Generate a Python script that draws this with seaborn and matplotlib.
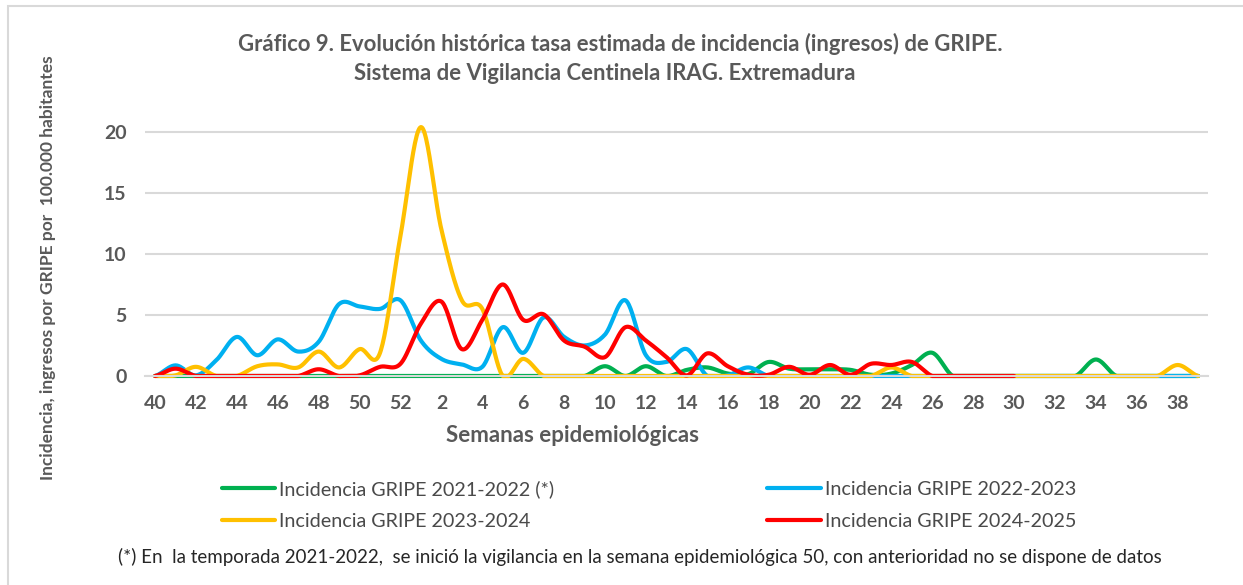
import numpy as np
import pandas as pd
import matplotlib
matplotlib.use("Agg")
import matplotlib.pyplot as plt
from matplotlib.patches import Rectangle
import seaborn as sns

# semanas epidemiologicas (temporada de la 40 a la 39)
weeks = list(range(40, 53)) + list(range(1, 40))

gripe_2122 = [0, 0, 0, 0, 0, 0, 0, 0, 0, 0, 0, 0, 0, 0, 0, 0, 0, 0, 0, 0,
              0, 0, 0.8, 0, 0.8, 0, 0.5, 0.7, 0.2, 0.15, 1.15, 0.6, 0.55, 0.55, 0.5, 0.1,
              0.2, 0.9, 1.9, 0, 0, 0, 0, 0, 0, 0, 1.35, 0, 0, 0, 0, 0]
gripe_2223 = [0, 0.87, 0.05, 1.3, 3.2, 1.7, 3.0, 2.0, 2.8, 5.9, 5.7, 5.5, 6.2, 2.9, 1.4, 0.95,
              0.75, 4.0, 1.9, 4.8, 3.2, 2.5, 3.4, 6.2, 1.7, 1.15, 2.2, 0, 0.05, 0.7, 0, 0,
              0, 0, 0, 0, 0, 0, 0, 0, 0, 0, 0, 0, 0, 0, 0, 0, 0, 0, 0, 0]
gripe_2324 = [0, 0.05, 0.75, 0, 0, 0.8, 0.95, 0.7, 2.0, 0.7, 2.2, 1.9, 11.5, 20.4, 12.0, 6.2,
              5.5, 0, 1.4, 0, 0, 0, 0, 0, 0, 0, 0, 0, 0, 0, 0, 0,
              0, 0, 0, 0, 0.7, 0, 0, 0, 0, 0, 0, 0, 0, 0, 0, 0, 0, 0, 0.9, 0]
gripe_2425 = [0, 0.6, 0, 0, 0, 0, 0, 0, 0.55, 0, 0.05, 0.75, 1.0, 4.3, 6.1, 2.2,
              4.6, 7.5, 4.6, 5.05, 2.9, 2.4, 1.55, 4.0, 2.9, 1.55, 0.05, 1.85, 0.8, 0.1, 0.1, 0.75,
              0.1, 0.9, 0.1, 1.0, 0.9, 1.15, 0, 0, 0, 0, 0]

series = {
    "Incidencia GRIPE 2021-2022 (*)": gripe_2122,
    "Incidencia GRIPE 2022-2023": gripe_2223,
    "Incidencia GRIPE 2023-2024": gripe_2324,
    "Incidencia GRIPE 2024-2025": gripe_2425,
}
colors = ["#00b050", "#00b0f0", "#ffc000", "#ff0000"]


def smooth(vals, n=24):
    # linea suavizada tipo Excel (Catmull-Rom) solo para dibujar
    y = np.asarray(vals, float)
    p = np.concatenate([[y[0]], y, [y[-1]]])
    xs, ys = [], []
    t = np.linspace(0, 1, n, endpoint=False)
    for k in range(len(y) - 1):
        p0, p1, p2, p3 = p[k], p[k + 1], p[k + 2], p[k + 3]
        c1 = p1 + (p2 - p0) / 6
        c2 = p2 - (p3 - p1) / 6
        b = (1 - t) ** 3 * p1 + 3 * (1 - t) ** 2 * t * c1 + 3 * (1 - t) * t ** 2 * c2 + t ** 3 * p2
        xs.extend(k + t)
        ys.extend(b)
    xs.append(len(y) - 1)
    ys.append(y[-1])
    return np.array(xs), np.maximum(np.array(ys), 0)


rows = []
for name, vals in series.items():
    xs, ys = smooth(vals)
    rows.append(pd.DataFrame({"pos": xs, "val": ys, "serie": name}))
df = pd.concat(rows, ignore_index=True)

sns.set_theme(style="white")
plt.rcParams["font.family"] = ["Lato", "DejaVu Sans"]
grey = "#595959"

fig = plt.figure(figsize=(12.43, 5.85), dpi=100)
ax = fig.add_axes([0.1165, 0.3573, 0.8557, 0.4588])

sns.lineplot(data=df, x="pos", y="val", hue="serie", palette=colors,
             sort=False, estimator=None, linewidth=3.0, ax=ax, legend=True)
for ln in ax.lines:
    ln.set_clip_on(False)
    ln.set_solid_capstyle("round")

ax.set_xlim(-0.5, len(weeks) - 0.5)
ax.set_ylim(0, 22)
ax.set_yticks([0, 5, 10, 15, 20])
ax.set_xticks(range(0, len(weeks), 2))
ax.set_xticklabels([str(w) for w in weeks[0::2]])
ax.tick_params(axis="both", length=0, labelsize=14, labelcolor=grey)
ax.tick_params(axis="y", pad=13)
ax.tick_params(axis="x", pad=14)
for lab in ax.get_xticklabels() + ax.get_yticklabels():
    lab.set_fontweight("bold")
ax.yaxis.grid(True, color="#d9d9d9", linewidth=1.5)
ax.set_axisbelow(True)
for s in ["top", "right", "left"]:
    ax.spines[s].set_visible(False)
ax.spines["bottom"].set_color("#d9d9d9")
ax.spines["bottom"].set_linewidth(1.5)
ax.set_xlabel("")
ax.set_ylabel("")

# leyenda en dos columnas
handles, labels = ax.get_legend_handles_labels()
ax.get_legend().remove()
order = [0, 2, 1, 3]
fig.legend([handles[i] for i in order], [labels[i] for i in order],
           loc="upper left", bbox_to_anchor=(222 / 1243, 1 - 480 / 585), ncol=2,
           frameon=False, fontsize=14.2, labelcolor="#4a4a4a", handlelength=2.7,
           handletextpad=0.2, columnspacing=10.8, labelspacing=0.78,
           borderaxespad=0, borderpad=0)

fig.text(620 / 1243, 1 - 44 / 585,
         "Gráfico 9. Evolución histórica tasa estimada de incidencia (ingresos) de GRIPE.",
         ha="center", va="center", fontsize=15.9, fontweight="bold", color=grey)
fig.text(605 / 1243, 1 - 73 / 585,
         "Sistema de Vigilancia Centinela IRAG. Extremadura",
         ha="center", va="center", fontsize=15.9, fontweight="bold", color=grey)
fig.text(572 / 1243, 1 - 436 / 585, "Semanas epidemiológicas",
         ha="center", va="center", fontsize=16, fontweight="bold", color=grey)
fig.text(48 / 1243, 1 - 268 / 585,
         "Incidencia, ingresos por GRIPE por  100.000 habitantes",
         ha="center", va="center", rotation=90, fontsize=12.5, fontweight="bold", color=grey)
fig.text(640 / 1243, 1 - 557 / 585,
         "(*) En  la temporada 2021-2022,  se inició la vigilancia en la semana epidemiológica 50, "
         "con anterioridad no se dispone de datos",
         ha="center", va="center", fontsize=13.5, color="#262626")

fig.patches.append(Rectangle((8 / 1243, -0.05), 1.1, 1.05 - 6 / 585, transform=fig.transFigure,
                             fill=False, edgecolor="#d9d9d9", linewidth=1.5))

fig.savefig("out.png", dpi=100)
